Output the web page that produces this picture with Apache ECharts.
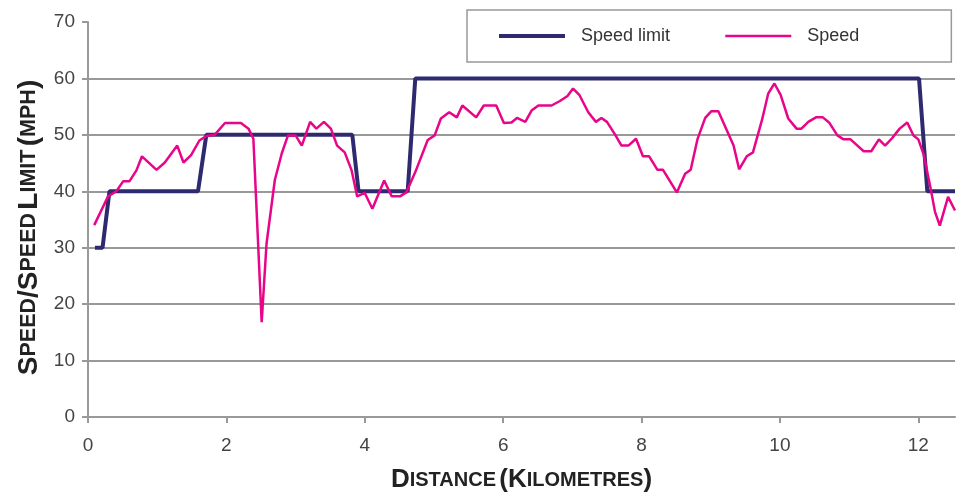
<!DOCTYPE html>
<html>
<head>
<meta charset="utf-8">
<script src="https://cdn.jsdelivr.net/npm/echarts@6/dist/echarts.min.js"></script>
<style>
  html, body { margin: 0; padding: 0; background: #fff; }
  #chart { width: 960px; height: 495px; }
</style>
</head>
<body>
<div id="chart"></div>
<script>
  // speed limit steps (km, mph)
  var limitKm  = [0.10, 0.21, 0.31, 1.59, 1.71, 3.82, 3.91, 4.62, 4.73, 12.01, 12.13, 12.53];
  var limitMph = [30, 30, 40, 40, 50, 50, 40, 40, 60, 60, 40, 40];

  // measured speed (km, mph)
  var speedKm = [
    0.09, 0.29, 0.41, 0.51, 0.60, 0.70, 0.78, 0.99, 1.11, 1.29, 1.38, 1.49, 1.61, 1.71, 1.83, 1.98,
    2.21, 2.32, 2.39, 2.51, 2.58, 2.70, 2.80, 2.89, 3.00, 3.09, 3.21, 3.30, 3.41, 3.51, 3.60, 3.71,
    3.81, 3.89, 4.00, 4.11, 4.28, 4.39, 4.51, 4.60, 4.73, 4.91, 5.01, 5.10, 5.22, 5.33, 5.41, 5.61,
    5.72, 5.90, 6.01, 6.12, 6.20, 6.32, 6.41, 6.51, 6.70, 6.82, 6.93, 7.01, 7.10, 7.23, 7.34, 7.42,
    7.50, 7.62, 7.71, 7.81, 7.92, 8.02, 8.11, 8.23, 8.31, 8.51, 8.63, 8.71, 8.81, 8.92, 9.01, 9.11,
    9.33, 9.41, 9.52, 9.61, 9.74, 9.83, 9.92, 10.01, 10.12, 10.24, 10.31, 10.41, 10.52, 10.62, 10.71,
    10.83, 10.92, 11.02, 11.12, 11.21, 11.32, 11.43, 11.52, 11.62, 11.73, 11.84, 11.93, 12.00, 12.08,
    12.17, 12.24, 12.31, 12.43, 12.53
  ];
  var speedMph = [
    34.0, 39.1, 40.0, 41.8, 41.8, 43.7, 46.2, 43.8, 45.1, 48.1, 45.1, 46.4, 49.0, 49.8, 50.0, 52.1,
    52.1, 51.1, 49.3, 16.8, 30.7, 42.0, 46.7, 49.9, 49.9, 48.1, 52.3, 51.1, 52.3, 51.1, 48.1, 46.9,
    43.7, 39.1, 39.7, 36.9, 41.9, 39.1, 39.1, 39.8, 43.4, 49.1, 49.9, 52.9, 54.0, 53.1, 55.2, 53.1,
    55.2, 55.2, 52.1, 52.2, 53.0, 52.3, 54.3, 55.2, 55.2, 56.0, 56.9, 58.2, 57.1, 54.0, 52.3, 53.0,
    52.3, 50.0, 48.1, 48.1, 49.3, 46.2, 46.2, 43.8, 43.8, 39.8, 43.1, 43.8, 49.3, 53.0, 54.2, 54.2,
    48.1, 43.9, 46.2, 46.9, 52.6, 57.3, 59.1, 57.1, 52.9, 51.1, 51.1, 52.3, 53.1, 53.1, 52.2,
    49.9, 49.2, 49.2, 48.1, 47.1, 47.1, 49.2, 48.1, 49.4, 51.1, 52.2, 49.9, 49.2, 46.4,
    41.0, 36.4, 33.9, 39.0, 36.6
  ];

  var xTicks = [0, 2, 4, 6, 8, 10, 12];

  function pairs(xs, ys) {
    return xs.map(function (x, i) { return [x, ys[i]]; });
  }

  var gray = '#999999';
  var labelFont = 'Liberation Sans';
  var limitColor = '#2e2a6f';
  var speedColor = '#e8058a';

  var chart = echarts.init(document.getElementById('chart'));
  chart.setOption({
    animation: false,
    grid: {
      left: 88, right: 5, top: 22, bottom: 78,
      outerBoundsMode: 'none'
    },
    legend: {
      left: 467, top: 10,
      padding: [17, 92, 17, 30],
      borderColor: gray,
      borderWidth: 1.5,
      itemWidth: 66,
      itemHeight: 14,
      itemGap: 54,
      itemStyle: { opacity: 0 },
      textStyle: { fontFamily: labelFont, fontSize: 18, color: '#333', padding: [0, 0, 0, 11] },
      data: [
        { name: 'Speed limit', lineStyle: { width: 4, color: limitColor } },
        { name: 'Speed', lineStyle: { width: 2.5, color: speedColor } }
      ]
    },
    xAxis: {
      type: 'value',
      min: 0,
      max: 12.53,
      interval: 2,
      name: '{b|D}{s|ISTANCE} {b|(K}{s|ILOMETRES}{b|)}',
      nameLocation: 'middle',
      nameGap: 50,
      nameTextStyle: {
        rich: {
          b: { fontFamily: labelFont, fontWeight: 'bold', fontSize: 26, color: '#222' },
          s: { fontFamily: labelFont, fontWeight: 'bold', fontSize: 20, color: '#222' }
        }
      },
      axisLine: { show: true, lineStyle: { color: gray, width: 2 } },
      axisTick: { show: true, length: 6, lineStyle: { color: gray, width: 2 }, customValues: xTicks },
      axisLabel: { customValues: xTicks, margin: 19, fontFamily: labelFont, fontSize: 19, color: '#444' },
      splitLine: { show: false }
    },
    yAxis: {
      type: 'value',
      min: 0,
      max: 70,
      interval: 10,
      name: '{b|S}{s|PEED}{b|/S}{s|PEED} {b|L}{s|IMIT} {b|(}{s|MPH}{b|)}',
      nameLocation: 'middle',
      nameGap: 44,
      nameTextStyle: {
        padding: [0, 16, 0, 0],
        rich: {
          b: { fontFamily: labelFont, fontWeight: 'bold', fontSize: 28, color: '#222' },
          s: { fontFamily: labelFont, fontWeight: 'bold', fontSize: 21.5, color: '#222' }
        }
      },
      axisLine: { show: true, lineStyle: { color: gray, width: 2 } },
      axisTick: { show: true, length: 6, lineStyle: { color: gray, width: 2 } },
      axisLabel: { margin: 13, fontFamily: labelFont, fontSize: 19, color: '#444' },
      splitLine: { show: true, showMaxLine: false, lineStyle: { color: gray, width: 2 } }
    },
    series: [
      {
        name: 'Speed limit',
        type: 'line',
        symbol: 'none',
        color: limitColor,
        lineStyle: { width: 4, color: limitColor },
        data: pairs(limitKm, limitMph)
      },
      {
        name: 'Speed',
        type: 'line',
        symbol: 'none',
        color: speedColor,
        lineStyle: { width: 2.5, color: speedColor },
        data: pairs(speedKm, speedMph)
      }
    ]
  });
</script>
</body>
</html>
